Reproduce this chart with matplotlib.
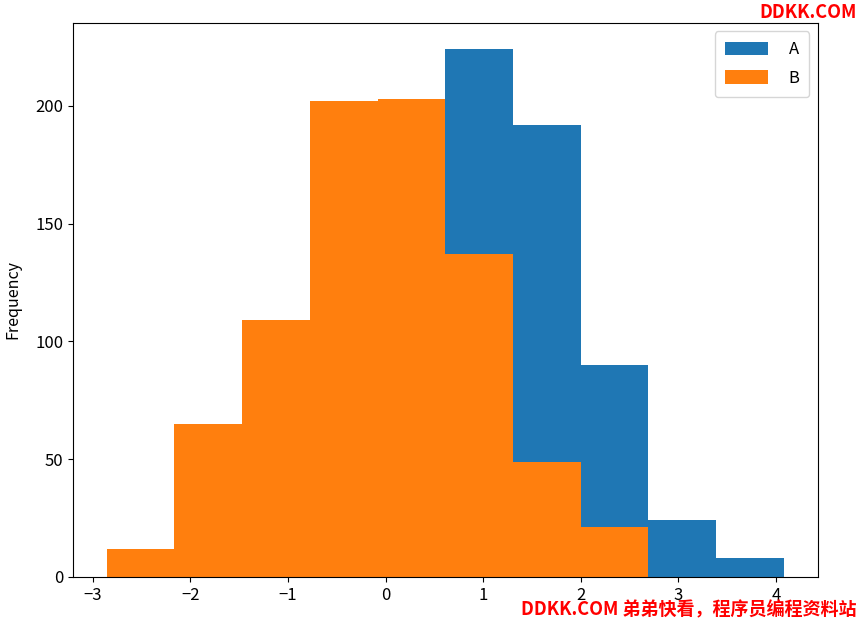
import numpy as np
import matplotlib
matplotlib.use('Agg')
import matplotlib.pyplot as plt

plt.rcParams['font.family'] = ['Noto Sans CJK SC', 'DejaVu Sans']

# histogram data (10 shared bins)
data_min = -2.856
data_max = 4.08
counts_a = [0, 1, 14, 58, 150, 224, 192, 90, 24, 8]
counts_b = [12, 65, 109, 202, 203, 137, 49, 21, 0, 0]
labels = ['A', 'B']

edges = np.linspace(data_min, data_max, len(counts_a) + 1)
centers = (edges[:-1] + edges[1:]) / 2

fig = plt.figure(figsize=(8.58, 6.21), dpi=100)
ax = fig.add_axes([0.085, 0.071, 0.868, 0.892])

ax.hist(centers, bins=edges, weights=counts_a, color='#1f77b4', label=labels[0])
ax.hist(centers, bins=edges, weights=counts_b, color='#ff7f0e', label=labels[1])

ax.set_ylabel('Frequency', fontsize=11.5, labelpad=10)
ax.tick_params(labelsize=12)
ax.legend(loc='upper right', fontsize=12, handlelength=2.6, handleheight=0.9,
          labelspacing=0.7, handletextpad=1.2, borderpad=0.6)

fig.text(0.998, 0.965, 'DDKK.COM', color='red', fontsize=13, fontweight='bold',
         ha='right', va='bottom')
fig.text(0.998, 0.003, 'DDKK.COM 弟弟快看，程序员编程资料站', color='red', fontsize=13,
         fontweight='bold', ha='right', va='bottom')

fig.savefig('out.png', dpi=100)
